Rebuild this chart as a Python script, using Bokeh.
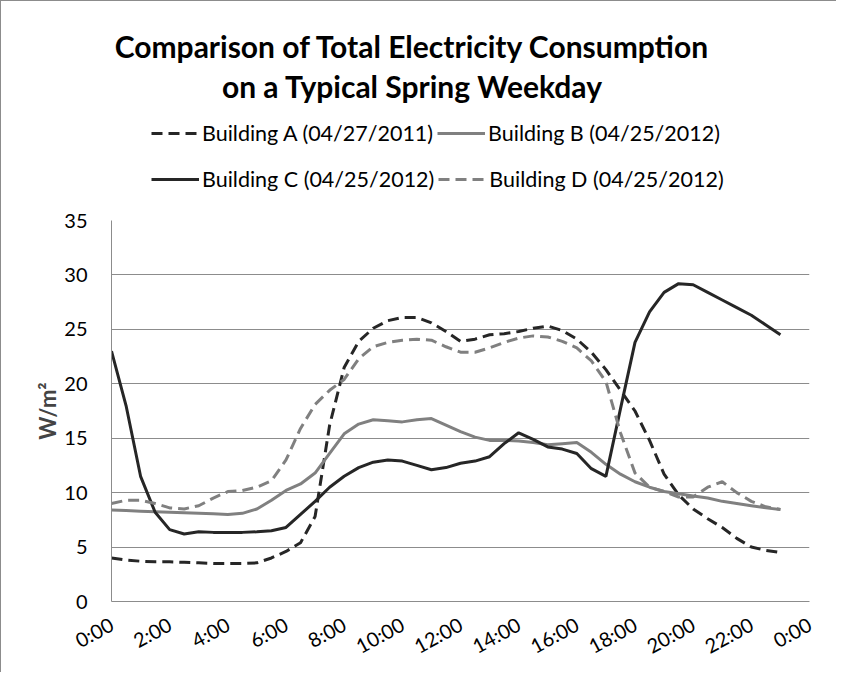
from bokeh.plotting import figure
from bokeh.layouts import column
from bokeh.models import Legend, LegendItem, Label, FixedTicker, Range1d
from bokeh.embed import file_html
from bokeh.resources import INLINE

# ---- data (half-hourly) ----
hours = [0, 0.5, 1, 1.5, 2, 2.5, 3, 3.5, 4, 4.5, 5, 5.5, 6, 6.5, 7, 7.5,
         8, 8.5, 9, 9.5, 10, 10.5, 11, 11.5, 12, 12.5, 13, 13.5, 14, 14.5,
         15, 15.5, 16, 16.5, 17, 17.5, 18, 18.5, 19, 19.5, 20, 20.5, 21,
         21.5, 22, 22.5, 23]

building_a = [4.0, 3.8, 3.7, 3.65, 3.65, 3.6, 3.55, 3.5, 3.5, 3.5, 3.55, 4.0,
              4.6, 5.4, 7.8, 16.2, 21.5, 23.9, 25.1, 25.8, 26.1, 26.1, 25.6,
              24.8, 23.9, 24.1, 24.5, 24.6, 24.8, 25.1, 25.3, 24.9, 24.1, 22.9,
              21.3, 19.4, 17.5, 14.8, 11.7, 9.8, 8.5, 7.6, 6.8, 5.8, 5.0, 4.7, 4.5]

building_b = [8.4, 8.35, 8.3, 8.25, 8.2, 8.15, 8.1, 8.05, 8.0, 8.1, 8.5, 9.3,
              10.2, 10.8, 11.8, 13.6, 15.4, 16.3, 16.7, 16.6, 16.5, 16.7, 16.8,
              16.2, 15.6, 15.1, 14.8, 14.8, 14.75, 14.6, 14.4, 14.5, 14.6, 13.7,
              12.6, 11.7, 11.0, 10.5, 10.1, 9.9, 9.7, 9.5, 9.2, 9.0, 8.8, 8.6, 8.45]

building_c = [23.0, 18.0, 11.5, 8.2, 6.6, 6.2, 6.4, 6.35, 6.35, 6.35, 6.4, 6.5,
              6.8, 8.0, 9.2, 10.5, 11.5, 12.3, 12.8, 13.0, 12.9, 12.5, 12.1,
              12.3, 12.7, 12.9, 13.3, 14.5, 15.5, 14.9, 14.2, 14.0, 13.6, 12.2,
              11.5, 17.7, 23.8, 26.6, 28.4, 29.2, 29.1, 28.4, 27.7, 27.0, 26.3,
              25.4, 24.5]

building_d = [9.0, 9.3, 9.3, 9.0, 8.6, 8.5, 8.8, 9.5, 10.1, 10.2, 10.5, 11.1,
              13.0, 15.9, 18.1, 19.4, 20.4, 22.3, 23.4, 23.8, 24.0, 24.1, 24.0,
              23.4, 22.9, 22.9, 23.3, 23.8, 24.2, 24.4, 24.3, 23.9, 23.3, 22.1,
              20.2, 15.5, 11.8, 10.5, 10.1, 9.6, 9.6, 10.5, 11.0, 10.0, 9.2, 8.7, 8.45]

series_names = ["Building A (04/27/2011)", "Building B (04/25/2012)",
                "Building C (04/25/2012)", "Building D (04/25/2012)"]

x_ticks = [0, 2, 4, 6, 8, 10, 12, 14, 16, 18, 20, 22, 24]
x_tick_labels = ["0:00", "2:00", "4:00", "6:00", "8:00", "10:00", "12:00",
                 "14:00", "16:00", "18:00", "20:00", "22:00", "0:00"]
y_ticks = [0, 5, 10, 15, 20, 25, 30, 35]

title_lines = ["Comparison of Total Electricity Consumption",
               "on a Typical Spring Weekday"]
y_label = "W/m²"

FONT = "Lato"
DARK = "#262626"
GRAY = "#808080"
GRID = "#8c8c8c"
DASH = "11 6"

W = 835
BL, BR = 110, 27          # left / right borders (frame from 110 to 808)
HH = 203                  # header height

styles = {
    "A": dict(line_color=DARK, line_width=3, line_dash=DASH),
    "B": dict(line_color=GRAY, line_width=3),
    "C": dict(line_color=DARK, line_width=3),
    "D": dict(line_color=GRAY, line_width=3, line_dash=DASH),
}
series = {"A": building_a, "B": building_b, "C": building_c, "D": building_d}

# ---------------- header: title + legend ----------------
hdr = figure(width=W, height=HH, output_backend="svg", toolbar_location=None,
             x_range=Range1d(BL, W - BR), y_range=Range1d(0, HH),
             x_axis_type=None, y_axis_type=None,
             min_border_left=BL, min_border_right=BR,
             min_border_top=0, min_border_bottom=0)
hdr.outline_line_color = None
hdr.xgrid.visible = False
hdr.ygrid.visible = False

for i, line in enumerate(title_lines):
    hdr.add_layout(Label(x=411, y=159 - i * 40, text=line,
                         text_align="center", text_baseline="middle",
                         text_font=FONT, text_font_style="bold",
                         text_font_size="30px", text_color="black"))

# legend proxies (series drawn outside the header's visible range)
h_rend = {k: hdr.line(hours, series[k], **s) for k, s in styles.items()}

def make_legend(keys, names, y):
    return Legend(items=[LegendItem(label=n, renderers=[h_rend[k]]) for k, n in zip(keys, names)],
                  orientation="horizontal", location=(40, y),
                  label_text_font=FONT, label_text_font_size="21.5px",
                  label_text_color="black", glyph_width=48, glyph_height=20,
                  label_standoff=3, spacing=4, padding=0, margin=0,
                  border_line_color=None, background_fill_alpha=0)

hdr.add_layout(make_legend(["A", "B"], series_names[0:2], 58))
hdr.add_layout(make_legend(["C", "D"], series_names[2:4], 12))

# ---------------- chart ----------------
p = figure(width=W, height=468, output_backend="svg", toolbar_location=None,
           x_range=Range1d(0, 24), y_range=Range1d(0, 35),
           min_border_left=BL, min_border_right=BR,
           min_border_top=16, min_border_bottom=71)
p.outline_line_color = None

for k in ["A", "B", "C", "D"]:
    p.line(hours, series[k], **styles[k])

p.xaxis.ticker = FixedTicker(ticks=x_ticks)
p.xaxis.major_label_overrides = {t: l for t, l in zip(x_ticks, x_tick_labels)}
p.xaxis.major_label_orientation = 0.5
p.yaxis.ticker = FixedTicker(ticks=y_ticks)
for ax in (p.xaxis[0], p.yaxis[0]):
    ax.axis_line_color = GRID
    ax.axis_line_width = 1
    ax.major_tick_line_color = None
    ax.minor_tick_line_color = None
    ax.major_tick_out = 0
    ax.major_tick_in = 0
    ax.major_label_text_font = FONT
    ax.major_label_text_font_size = "20px"
    ax.major_label_text_color = "black"
p.xaxis.major_label_standoff = 21
p.yaxis.major_label_standoff = 24
p.yaxis.axis_label = y_label
p.yaxis.axis_label_text_font = FONT
p.yaxis.axis_label_text_font_style = "bold"
p.yaxis.axis_label_text_font_size = "22px"
p.yaxis.axis_label_standoff = 0

p.xgrid.grid_line_color = None
p.ygrid.grid_line_color = GRID
p.ygrid.grid_line_width = 1

layout = column(hdr, p, spacing=0)
layout.styles = {"border-left": "1px solid #8c8c8c", "border-top": "1px solid #8c8c8c"}

open("out.html", "w").write(file_html(layout, INLINE))
